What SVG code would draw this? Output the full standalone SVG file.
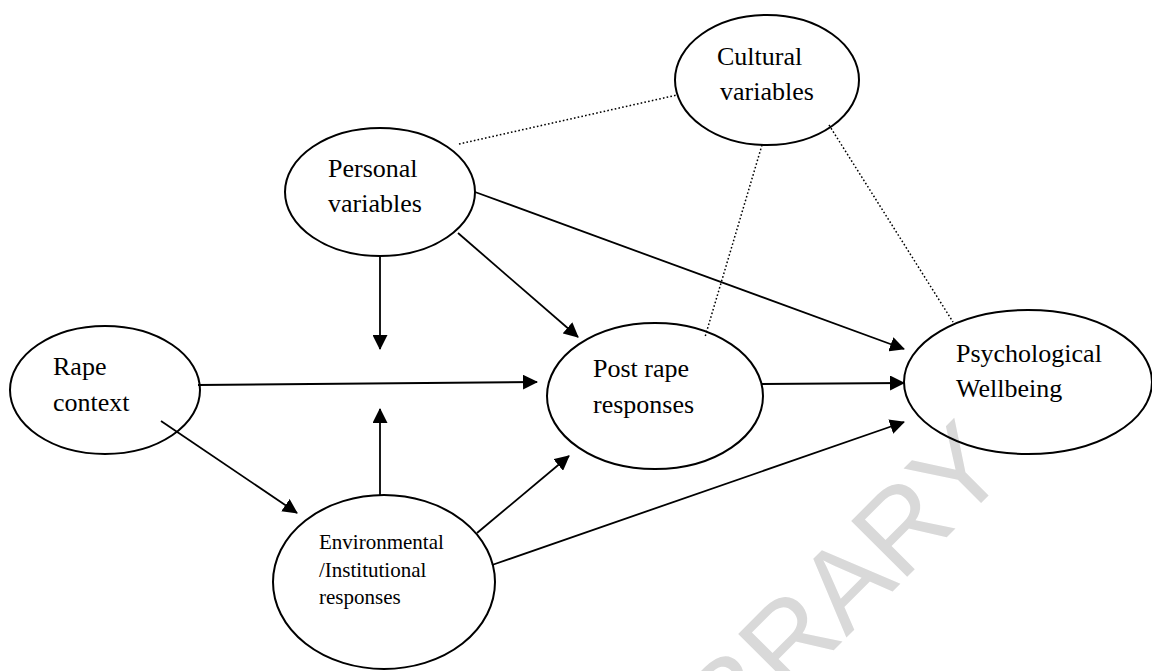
<svg xmlns="http://www.w3.org/2000/svg" width="1152" height="671" viewBox="0 0 1152 671">
<style>
.node ellipse{fill:none;stroke:#000;stroke-width:2}
.lbl{font-family:"Liberation Serif","Times New Roman",serif;font-size:26px;fill:#000}
.sm{font-size:21px}
.arr{stroke:#000;stroke-width:1.8;fill:none;marker-end:url(#ah)}
.dot{stroke:#000;stroke-width:1.5;fill:none;stroke-dasharray:1.6 2.2}
.wm{font-family:"Liberation Sans",Arial,sans-serif;font-size:115px;fill:#d9d9d9}
</style>
<defs>
<marker id="ah" viewBox="0 0 15 15" refX="14" refY="7.5" markerWidth="15" markerHeight="15" markerUnits="userSpaceOnUse" orient="auto">
<path d="M0,0 L15,7.5 L0,15 z" fill="#000"/>
</marker>
</defs>
<rect width="1152" height="671" fill="#fff"/>
<text class="wm" transform="translate(1012,472) rotate(-45)" text-anchor="end">BRARY</text>
<g id="connectors">
<line class="dot" x1="459" y1="144" x2="677" y2="95"/>
<line class="dot" x1="762" y1="145" x2="705" y2="337"/>
<line class="dot" x1="829" y1="125" x2="953" y2="322"/>
<line class="arr" x1="475" y1="192" x2="904" y2="349"/>
<line class="arr" x1="458" y1="233" x2="578" y2="337"/>
<line class="arr" x1="380" y1="256" x2="380" y2="349"/>
<line class="arr" x1="198" y1="385" x2="537" y2="382"/>
<line class="arr" x1="161" y1="421" x2="297" y2="513"/>
<line class="arr" x1="380" y1="495" x2="380" y2="409"/>
<line class="arr" x1="477" y1="533" x2="569" y2="456"/>
<line class="arr" x1="492" y1="565" x2="904" y2="422"/>
<line class="arr" x1="762" y1="384" x2="904" y2="383"/>
</g>
<g id="cultural" class="node">
<ellipse cx="767" cy="80" rx="92" ry="65"/>
<text class="lbl" x="717" y="65">Cultural</text>
<text class="lbl" x="720" y="100">variables</text>
</g>
<g id="personal" class="node">
<ellipse cx="380" cy="192" rx="95" ry="64"/>
<text class="lbl" x="328" y="177">Personal</text>
<text class="lbl" x="328" y="212">variables</text>
</g>
<g id="rape" class="node">
<ellipse cx="105" cy="390" rx="95" ry="64"/>
<text class="lbl" x="53" y="375">Rape</text>
<text class="lbl" x="53" y="411">context</text>
</g>
<g id="post" class="node">
<ellipse cx="655" cy="396" rx="108" ry="73"/>
<text class="lbl" x="593" y="377">Post rape</text>
<text class="lbl" x="593" y="413">responses</text>
</g>
<g id="psych" class="node">
<ellipse cx="1028" cy="382" rx="124" ry="72"/>
<text class="lbl" x="956" y="362">Psychological</text>
<text class="lbl" x="956" y="397">Wellbeing</text>
</g>
<g id="env" class="node">
<ellipse cx="384" cy="582" rx="111" ry="87"/>
<text class="lbl sm" x="319" y="549">Environmental</text>
<text class="lbl sm" x="319" y="577">/Institutional</text>
<text class="lbl sm" x="319" y="604">responses</text>
</g>
</svg>
